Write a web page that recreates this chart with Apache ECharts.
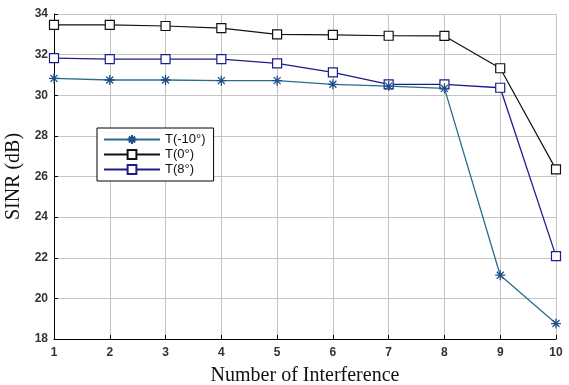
<!DOCTYPE html>
<html>
<head>
<meta charset="utf-8">
<script src="https://cdn.jsdelivr.net/npm/echarts@6/dist/echarts.min.js"></script>
<style>
  html, body { margin: 0; padding: 0; background: #fff; }
  #chart { width: 569px; height: 385px; }
</style>
</head>
<body>
<div id="chart"></div>
<script>
  // 数据
  const interference = [1, 2, 3, 4, 5, 6, 7, 8, 9, 10]
  const sinrMinus10 = [30.83, 30.75, 30.75, 30.72, 30.72, 30.54, 30.45, 30.34, 21.14, 18.76]
  const sinrZero = [33.46, 33.46, 33.41, 33.3, 33.0, 32.97, 32.93, 32.92, 31.33, 26.35]
  const sinrEight = [31.83, 31.78, 31.78, 31.78, 31.57, 31.13, 30.54, 30.54, 30.37, 22.08]
  const seriesNames = ['T(-10°)', 'T(0°)', 'T(8°)']

  const star = 'path://M0,5L10,5M5,0L5,10M1.5,1.5L8.5,8.5M8.5,1.5L1.5,8.5'

  function pairs(vals) {
    return interference.map((x, i) => [x, vals[i]])
  }

  const chartInstance = echarts.init(document.getElementById('chart'))
  const option = {
    animation: false,
    grid: { left: 54, right: 13, top: 14, bottom: 46, outerBoundsMode: 'none', containLabel: false },
    legend: {
      orient: 'vertical',
      left: 97,
      top: 128,
      padding: [5, 8, 5, 6],
      itemGap: 2,
      itemWidth: 56,
      itemHeight: 11,
      backgroundColor: '#fff',
      borderColor: '#000',
      borderWidth: 1,
      data: seriesNames,
      textStyle: { fontFamily: 'Liberation Sans, Arial', fontSize: 13, color: '#111' }
    },
    xAxis: {
      type: 'value',
      min: 1,
      max: 10,
      interval: 1,
      name: 'Number of Interference',
      nameLocation: 'middle',
      nameGap: 27,
      nameTextStyle: { fontFamily: 'Liberation Serif, Times New Roman', fontSize: 20, color: '#111' },
      axisLine: { lineStyle: { color: '#000', width: 1 } },
      axisTick: { inside: true, length: 4, lineStyle: { color: '#000' } },
      axisLabel: { fontFamily: 'Liberation Sans, Arial', fontSize: 12, fontWeight: 'bold', color: '#333', margin: 8 },
      splitLine: { show: true, lineStyle: { color: '#c4c4c4', width: 1 } }
    },
    yAxis: {
      type: 'value',
      min: 18,
      max: 34,
      interval: 2,
      name: 'SINR (dB)',
      nameLocation: 'middle',
      nameGap: 30,
      nameTextStyle: { fontFamily: 'Liberation Serif, Times New Roman', fontSize: 20, color: '#111' },
      axisLine: { show: true, lineStyle: { color: '#000', width: 1 } },
      axisTick: { show: true, inside: true, length: 4, lineStyle: { color: '#000' } },
      axisLabel: { fontFamily: 'Liberation Sans, Arial', fontSize: 12, fontWeight: 'bold', color: '#333', margin: 6 },
      splitLine: { show: true, lineStyle: { color: '#c4c4c4', width: 1 } }
    },
    series: [
      {
        name: seriesNames[0],
        type: 'line',
        data: pairs(sinrMinus10),
        symbol: star,
        symbolSize: 10,
        showAllSymbol: true,
        lineStyle: { color: '#2a6c8e', width: 1.3 },
        itemStyle: { color: '#1f4f8a', borderColor: '#1f4f8a', borderWidth: 1.3 },
        z: 3
      },
      {
        name: seriesNames[1],
        type: 'line',
        data: pairs(sinrZero),
        symbol: 'rect',
        symbolSize: 9,
        lineStyle: { color: '#111', width: 1.2 },
        itemStyle: { color: '#fff', borderColor: '#111', borderWidth: 1.2 },
        z: 2
      },
      {
        name: seriesNames[2],
        type: 'line',
        data: pairs(sinrEight),
        symbol: 'rect',
        symbolSize: 9,
        lineStyle: { color: '#1c1c8a', width: 1.3 },
        itemStyle: { color: '#fff', borderColor: '#1c1c8a', borderWidth: 1.2 },
        z: 2
      }
    ]
  }
  chartInstance.setOption(option)
</script>
</body>
</html>
